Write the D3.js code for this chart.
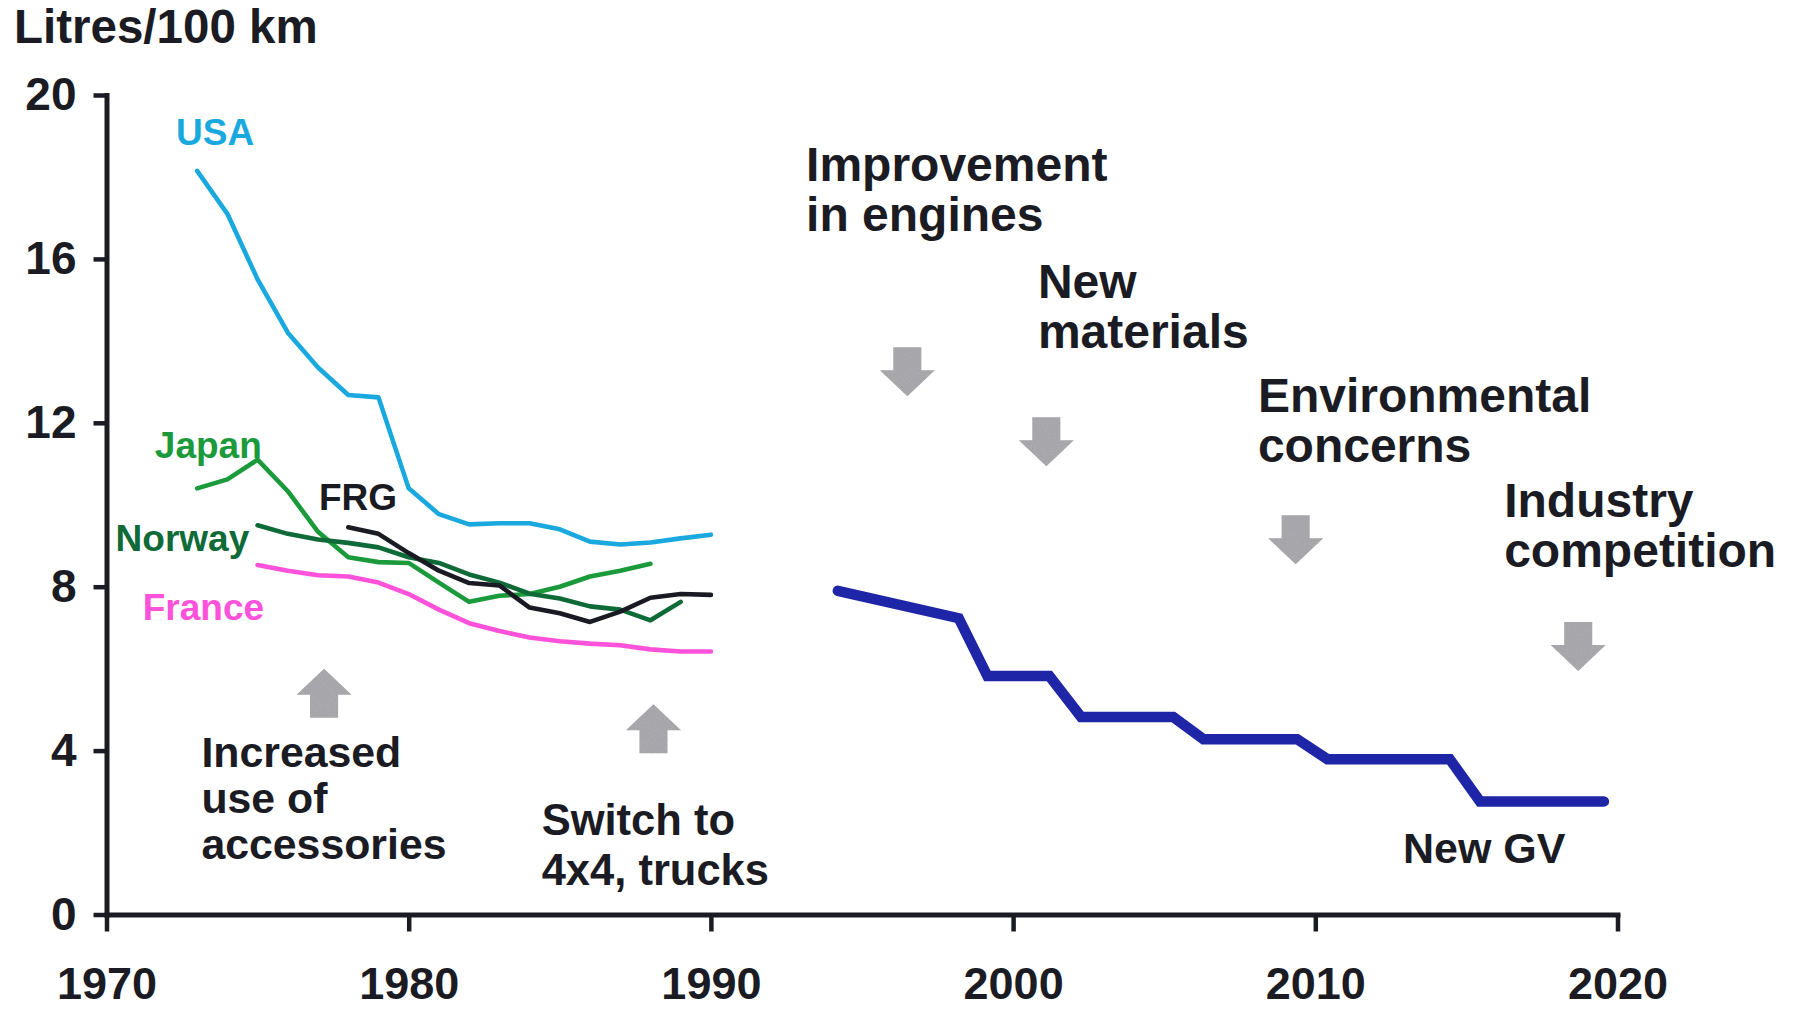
<!DOCTYPE html>
<html><head><meta charset="utf-8">
<script src="https://cdn.jsdelivr.net/npm/d3@7"></script>
<style>
body{margin:0;background:#fff}
svg{display:block}
text{font-family:"Liberation Sans",Arial,Helvetica,sans-serif;font-weight:bold}
</style>
</head><body>
<svg id="chart" width="1795" height="1009"></svg>
<script>
// ---------- data ----------
const usaYears = [1973,1974,1975,1976,1977,1978,1979,1980,1981,1982,1983,1984,1985,1986,1987,1988,1989,1990];
const usaValues = [18.15,17.1,15.5,14.2,13.35,12.68,12.62,10.4,9.77,9.52,9.55,9.55,9.4,9.1,9.03,9.08,9.18,9.27];
const japanYears = [1973,1974,1975,1976,1977,1978,1979,1980,1981,1982,1983,1984,1985,1986,1987,1988];
const japanValues = [10.4,10.62,11.1,10.33,9.34,8.72,8.6,8.58,8.1,7.63,7.78,7.82,8.0,8.25,8.39,8.56];
const norwayYears = [1975,1976,1977,1978,1979,1980,1981,1982,1983,1984,1985,1986,1987,1988,1989];
const norwayValues = [9.5,9.29,9.15,9.07,8.96,8.72,8.58,8.3,8.1,7.83,7.71,7.52,7.44,7.18,7.63];
const franceYears = [1975,1976,1977,1978,1979,1980,1981,1982,1983,1984,1985,1986,1987,1988,1989,1990];
const franceValues = [8.53,8.39,8.28,8.25,8.1,7.82,7.44,7.11,6.92,6.76,6.67,6.61,6.57,6.47,6.42,6.42];
const frgYears = [1978,1979,1980,1981,1982,1983,1984,1985,1986,1987,1988,1989,1990];
const frgValues = [9.45,9.29,8.82,8.39,8.09,8.03,7.49,7.35,7.14,7.39,7.73,7.82,7.8];
const gvYears = [1994.2,1998.2,1999.15,2001.2,2002.25,2005.3,2006.3,2009.4,2010.4,2014.45,2015.45,2019.55];
const gvValues = [7.9,7.23,5.82,5.82,4.82,4.82,4.28,4.28,3.79,3.79,2.76,2.76];

const seriesNames = ["USA","Japan","Norway","France","FRG"];
const seriesLabelYears = [1972.3,1971.6,1970.3,1971.2,1977.03];
const seriesLabelValues = [18.77,11.15,8.86,7.18,9.87];

const yTicks = [0,4,8,12,16,20];
const xTicks = [1970,1980,1990,2000,2010,2020];
const yTitle = "Litres/100 km";

const arrowYears = [1977.2,1988.1,1996.5,2001.1,2009.35,2018.7];
const arrowTips = [6.0,5.13,12.65,10.94,8.55,5.94];
const arrowDirs = ["up","up","down","down","down","down"];

const noteLines = [["Improvement","in engines"],["New","materials"],["Environmental","concerns"],["Industry","competition"],
                   ["Increased","use of","accessories"],["Switch to","4x4, trucks"],["New GV"]];
const noteYears = [1993.15,2000.82,2008.1,2016.25,1973.14,1984.4,2012.9];
const noteValues = [17.9,15.04,12.26,9.7,3.6,1.94,1.26];
const noteSizes = ["big","big","big","big","small","switch","gv"];

// ---------- styles ----------
const colors = {USA:"#19a9df",Japan:"#1b9a3b",Norway:"#0e6a37",France:"#ff52da",FRG:"#1a1a22",GV:"#1e25a6"};
const ink = "#1b1b24";

const svg = d3.select("#chart");
const x = d3.scaleLinear().domain([1970,2020]).range([106.5,1617.5]);
const y = d3.scaleLinear().domain([0,20]).range([914.5,95]);

// axes
const gy = svg.append("g").attr("transform",`translate(${x(1970)},0)`)
  .call(d3.axisLeft(y).tickValues(yTicks).tickSize(13).tickSizeOuter(0).tickPadding(17));
const gx = svg.append("g").attr("transform",`translate(0,${y(0)})`)
  .call(d3.axisBottom(x).tickValues(xTicks).tickFormat(d3.format("d")).tickSize(17).tickSizeOuter(0).tickPadding(36));
[gx,gy].forEach(g=>{
  g.selectAll("path.domain").attr("stroke",ink).attr("stroke-width",5).attr("stroke-linecap","square");
  g.selectAll(".tick line").attr("stroke",ink).attr("stroke-width",4.5);
  g.selectAll(".tick text").attr("fill",ink).style("font-size","46px").style("font-family",'"Liberation Sans",Arial,sans-serif').style("font-weight","bold");
});
gx.selectAll(".tick text").style("font-size","45px");

svg.append("text").attr("x",14).attr("y",43).attr("fill",ink).style("font-size","47.5px").text(yTitle);

// series lines
const line = d3.line().x(d=>x(d[0])).y(d=>y(d[1]));
const seriesData = {
  USA: usaYears.map((yr,i)=>[yr,usaValues[i]]),
  Japan: japanYears.map((yr,i)=>[yr,japanValues[i]]),
  Norway: norwayYears.map((yr,i)=>[yr,norwayValues[i]]),
  France: franceYears.map((yr,i)=>[yr,franceValues[i]]),
  FRG: frgYears.map((yr,i)=>[yr,frgValues[i]])
};
seriesNames.forEach(n=>{
  svg.append("path").datum(seriesData[n]).attr("d",line)
    .attr("fill","none").attr("stroke",colors[n]).attr("stroke-width",4.6)
    .attr("stroke-linejoin","round").attr("stroke-linecap","round");
});
svg.append("path").datum(gvYears.map((yr,i)=>[yr,gvValues[i]])).attr("d",line)
  .attr("fill","none").attr("stroke",colors.GV).attr("stroke-width",10.5)
  .attr("stroke-linejoin","miter").attr("stroke-linecap","round");

// series labels
seriesNames.forEach((n,i)=>{
  svg.append("text").attr("x",x(seriesLabelYears[i])).attr("y",y(seriesLabelValues[i]))
    .attr("fill",colors[n]).style("font-size","37px").text(n);
});

// arrows
const defs = svg.append("defs");
const flt = defs.append("filter").attr("id","stip").attr("x","0").attr("y","0").attr("width","1").attr("height","1");
flt.append("feTurbulence").attr("type","fractalNoise").attr("baseFrequency","0.9").attr("numOctaves","1").attr("seed","3").attr("result","n");
flt.append("feColorMatrix").attr("in","n").attr("type","matrix")
  .attr("values","0 0 0 0 0.45  0 0 0 0 0.45  0 0 0 0 0.47  0 0 0 1.3 -0.45").attr("result","dots");
flt.append("feComposite").attr("in","dots").attr("in2","SourceGraphic").attr("operator","in").attr("result","d2");
flt.append("feMerge").call(m=>{m.append("feMergeNode").attr("in","SourceGraphic");m.append("feMergeNode").attr("in","d2");});

arrowYears.forEach((yr,i)=>{
  const cx = x(yr), ty = y(arrowTips[i]);
  const s = arrowDirs[i]==="down" ? -1 : 1; // direction from tip toward tail
  const hw = 27.5, sw = 14, hh = 26, L = 49;
  const pts = [[cx,ty],[cx+hw,ty+s*hh],[cx+sw,ty+s*hh],[cx+sw,ty+s*L],[cx-sw,ty+s*L],[cx-sw,ty+s*hh],[cx-hw,ty+s*hh]];
  svg.append("path").attr("d","M"+pts.map(p=>p.join(",")).join("L")+"Z")
    .attr("fill","#a4a4a8").attr("filter","url(#stip)");
});

// notes
const sizeMap = {big:{fs:48,lh:50},small:{fs:42.8,lh:46},switch:{fs:43.5,lh:50},gv:{fs:43,lh:45}};
noteLines.forEach((lines,i)=>{
  const sz = sizeMap[noteSizes[i]];
  const t = svg.append("text").attr("x",x(noteYears[i])).attr("y",y(noteValues[i]))
    .attr("fill",ink).style("font-size",sz.fs+"px");
  lines.forEach((l,j)=>{
    t.append("tspan").attr("x",x(noteYears[i])).attr("y",y(noteValues[i])+j*sz.lh).text(l);
  });
});
</script>
</body></html>
